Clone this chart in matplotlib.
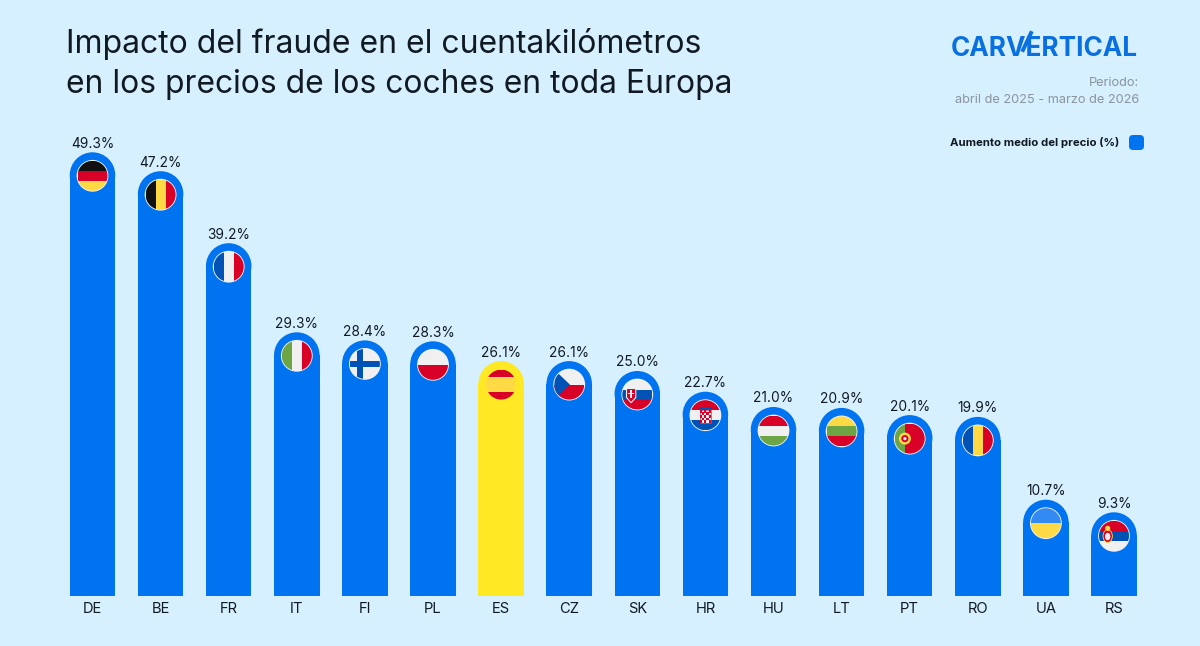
import matplotlib
matplotlib.use('Agg')
import matplotlib.pyplot as plt
from matplotlib.patches import Rectangle, Ellipse, Polygon, Circle, FancyBboxPatch
from matplotlib.transforms import Affine2D

countries = ['DE', 'BE', 'FR', 'IT', 'FI', 'PL', 'ES', 'CZ', 'SK', 'HR', 'HU', 'LT', 'PT', 'RO', 'UA', 'RS']
values = [49.3, 47.2, 39.2, 29.3, 28.4, 28.3, 26.1, 26.1, 25.0, 22.7, 21.0, 20.9, 20.1, 19.9, 10.7, 9.3]
highlight = 'ES'

BG = '#D6F0FF'
BLUE = '#0074F0'
YELLOW = '#FFE924'
DARK = '#111A22'
GREY = '#8B949C'
RED = '#D80027'
FBLUE = '#0052B4'
GOLD = '#FFDA44'
WHITE = '#F0F0F0'
GREEN = '#6DA544'

plt.rcParams['font.family'] = ['Inter', 'DejaVu Sans']

W, H = 1200, 646
BASE = 596          # baseline, pixels from the top
STEP = 68.1         # pixels per bar
PX_Y = 9.0          # pixels per percent
X0 = 92.5           # centre of first bar

fig = plt.figure(figsize=(W / 100, H / 100), dpi=100, facecolor=BG)
ax = fig.add_axes([0, (H - BASE) / H, 1, BASE / H])
ax.set_facecolor('none')
ax.set_xlim(-X0 / STEP, (W - X0) / STEP)
ax.set_ylim(0, BASE / PX_Y)
for s in ax.spines.values():
    s.set_visible(False)
ax.set_yticks([])
ax.set_xticks(range(len(countries)))
ax.set_xticklabels(countries, fontsize=10.6, color=DARK)
ax.tick_params(axis='x', length=0, pad=4)

bar_w = 45.5 / STEP
cap_h = 45.5 / PX_Y


def stripes(t, clip, colors, vertical=False):
    n = len(colors)
    for k, c in enumerate(colors):
        if vertical:
            r = Rectangle((-1 + 2 * k / n, -1), 2 / n, 2, fc=c, lw=0, transform=t, zorder=4)
        else:
            r = Rectangle((-1, 1 - 2 * (k + 1) / n), 2, 2 / n, fc=c, lw=0, transform=t, zorder=4)
        ax.add_patch(r)
        r.set_clip_path(clip)


def add_shape(p, clip, z=5):
    ax.add_patch(p)
    p.set_clip_path(clip)
    p.set_zorder(z)


def draw_flag(code, t):
    edge = Circle((0, 0), 1.06, fc=WHITE, lw=0, transform=t, zorder=3)
    if code != 'ES':
        ax.add_patch(edge)
    clip = Circle((0, 0), 1.0, transform=t)
    ax.add_patch(clip)
    clip.set_visible(False)

    if code == 'DE':
        stripes(t, clip, ['#111111', RED, GOLD])
    elif code == 'BE':
        stripes(t, clip, ['#111111', GOLD, RED], vertical=True)
    elif code == 'FR':
        stripes(t, clip, [FBLUE, WHITE, RED], vertical=True)
    elif code == 'IT':
        stripes(t, clip, [GREEN, WHITE, RED], vertical=True)
    elif code == 'FI':
        stripes(t, clip, [WHITE])
        add_shape(Rectangle((-1, -0.2), 2, 0.4, fc=FBLUE, lw=0, transform=t), clip)
        add_shape(Rectangle((-0.5, -1), 0.4, 2, fc=FBLUE, lw=0, transform=t), clip)
    elif code == 'PL':
        stripes(t, clip, [WHITE, RED])
    elif code == 'ES':
        stripes(t, clip, [RED, GOLD, GOLD, RED])
    elif code == 'CZ':
        stripes(t, clip, [WHITE, RED])
        add_shape(Polygon([(-1, 1), (-1, -1), (0.05, 0)], fc=FBLUE, lw=0, transform=t), clip)
    elif code == 'SK':
        stripes(t, clip, [WHITE, FBLUE, RED])
        add_shape(Polygon([(-0.72, 0.4), (-0.1, 0.4), (-0.1, -0.2), (-0.41, -0.55), (-0.72, -0.2)],
                          fc=RED, ec=WHITE, lw=0.8, transform=t), clip)
        add_shape(Rectangle((-0.46, -0.25), 0.1, 0.55, fc=WHITE, lw=0, transform=t), clip, 6)
        add_shape(Rectangle((-0.6, 0.02), 0.38, 0.09, fc=WHITE, lw=0, transform=t), clip, 6)
    elif code == 'HR':
        stripes(t, clip, [RED, WHITE, FBLUE])
        add_shape(Rectangle((-0.36, 0.35), 0.72, 0.22, fc=FBLUE, lw=0, transform=t), clip)
        add_shape(Rectangle((-0.36, -0.5), 0.72, 0.85, fc=WHITE, ec=RED, lw=0.4, transform=t), clip)
        for r_i in range(5):
            for c_i in range(5):
                if (r_i + c_i) % 2 == 0:
                    add_shape(Rectangle((-0.36 + c_i * 0.144, -0.5 + r_i * 0.17), 0.144, 0.17,
                                        fc=RED, lw=0, transform=t), clip, 6)
    elif code == 'HU':
        stripes(t, clip, [RED, WHITE, GREEN])
    elif code == 'LT':
        stripes(t, clip, [GOLD, GREEN, RED])
    elif code == 'PT':
        stripes(t, clip, [GREEN, RED, RED], vertical=True)
        add_shape(Circle((-0.32, 0), 0.4, fc=GOLD, lw=0, transform=t), clip)
        add_shape(Circle((-0.32, 0), 0.24, fc=RED, lw=0, transform=t), clip, 6)
        add_shape(Circle((-0.32, 0), 0.11, fc=WHITE, lw=0, transform=t), clip, 7)
    elif code == 'RO':
        stripes(t, clip, [FBLUE, GOLD, RED], vertical=True)
    elif code == 'UA':
        stripes(t, clip, ['#338AF3', GOLD])
    elif code == 'RS':
        stripes(t, clip, [RED, FBLUE, WHITE])
        add_shape(Ellipse((-0.42, -0.02), 0.62, 0.85, fc=RED, ec=GOLD, lw=0.6, transform=t), clip)
        add_shape(Ellipse((-0.42, -0.05), 0.36, 0.5, fc=WHITE, lw=0, transform=t), clip, 6)
        add_shape(Circle((-0.42, 0.5), 0.17, fc=GOLD, lw=0, transform=t), clip, 6)


for i, (code, v) in enumerate(zip(countries, values)):
    col = YELLOW if code == highlight else BLUE
    ax.bar(i, v - cap_h / 2, width=bar_w, color=col, linewidth=0, zorder=2)
    ax.add_patch(Ellipse((i, v - cap_h / 2), bar_w, cap_h, fc=col, lw=0, zorder=2))
    ax.text(i, v + 8.5 / PX_Y, f'{v:.1f}%', ha='center', va='center', fontsize=9.9, color=DARK)
    t = Affine2D().scale(15 / STEP, 15 / PX_Y).translate(i, v - 23.5 / PX_Y) + ax.transData
    draw_flag(code, t)


def fx(px):
    return px / W


def fy(py):
    return 1 - py / H


fig.text(fx(66), fy(44), 'Impacto del fraude en el cuentakilómetros', fontsize=23, color=DARK, va='center')
fig.text(fx(66), fy(84), 'en los precios de los coches en toda Europa', fontsize=22.9, color=DARK, va='center')

fig.text(fx(1044), fy(49), 'CARVERTICAL', fontsize=18.8, fontweight='bold', color='#0A6FE0', ha='center', va='center')
fig.add_artist(plt.Line2D([fx(1023), fx(1031)], [fy(50), fy(33)], color='#0A6FE0', lw=2.8))

fig.text(fx(1139), fy(83), 'Periodo:', fontsize=9.2, color=GREY, ha='right', va='center')
fig.text(fx(1139), fy(100), 'abril de 2025 - marzo de 2026', fontsize=9.2, color=GREY, ha='right', va='center')

fig.text(fx(1119), fy(142), 'Aumento medio del precio (%)', fontsize=8.2, fontweight='bold', color='#111820', ha='right', va='center')
fig.add_artist(FancyBboxPatch((1131, H - 148), 11, 11, boxstyle='round,pad=2,rounding_size=4',
                              fc=BLUE, lw=0, transform=None))

fig.savefig('out.png', dpi=100, facecolor=BG)
